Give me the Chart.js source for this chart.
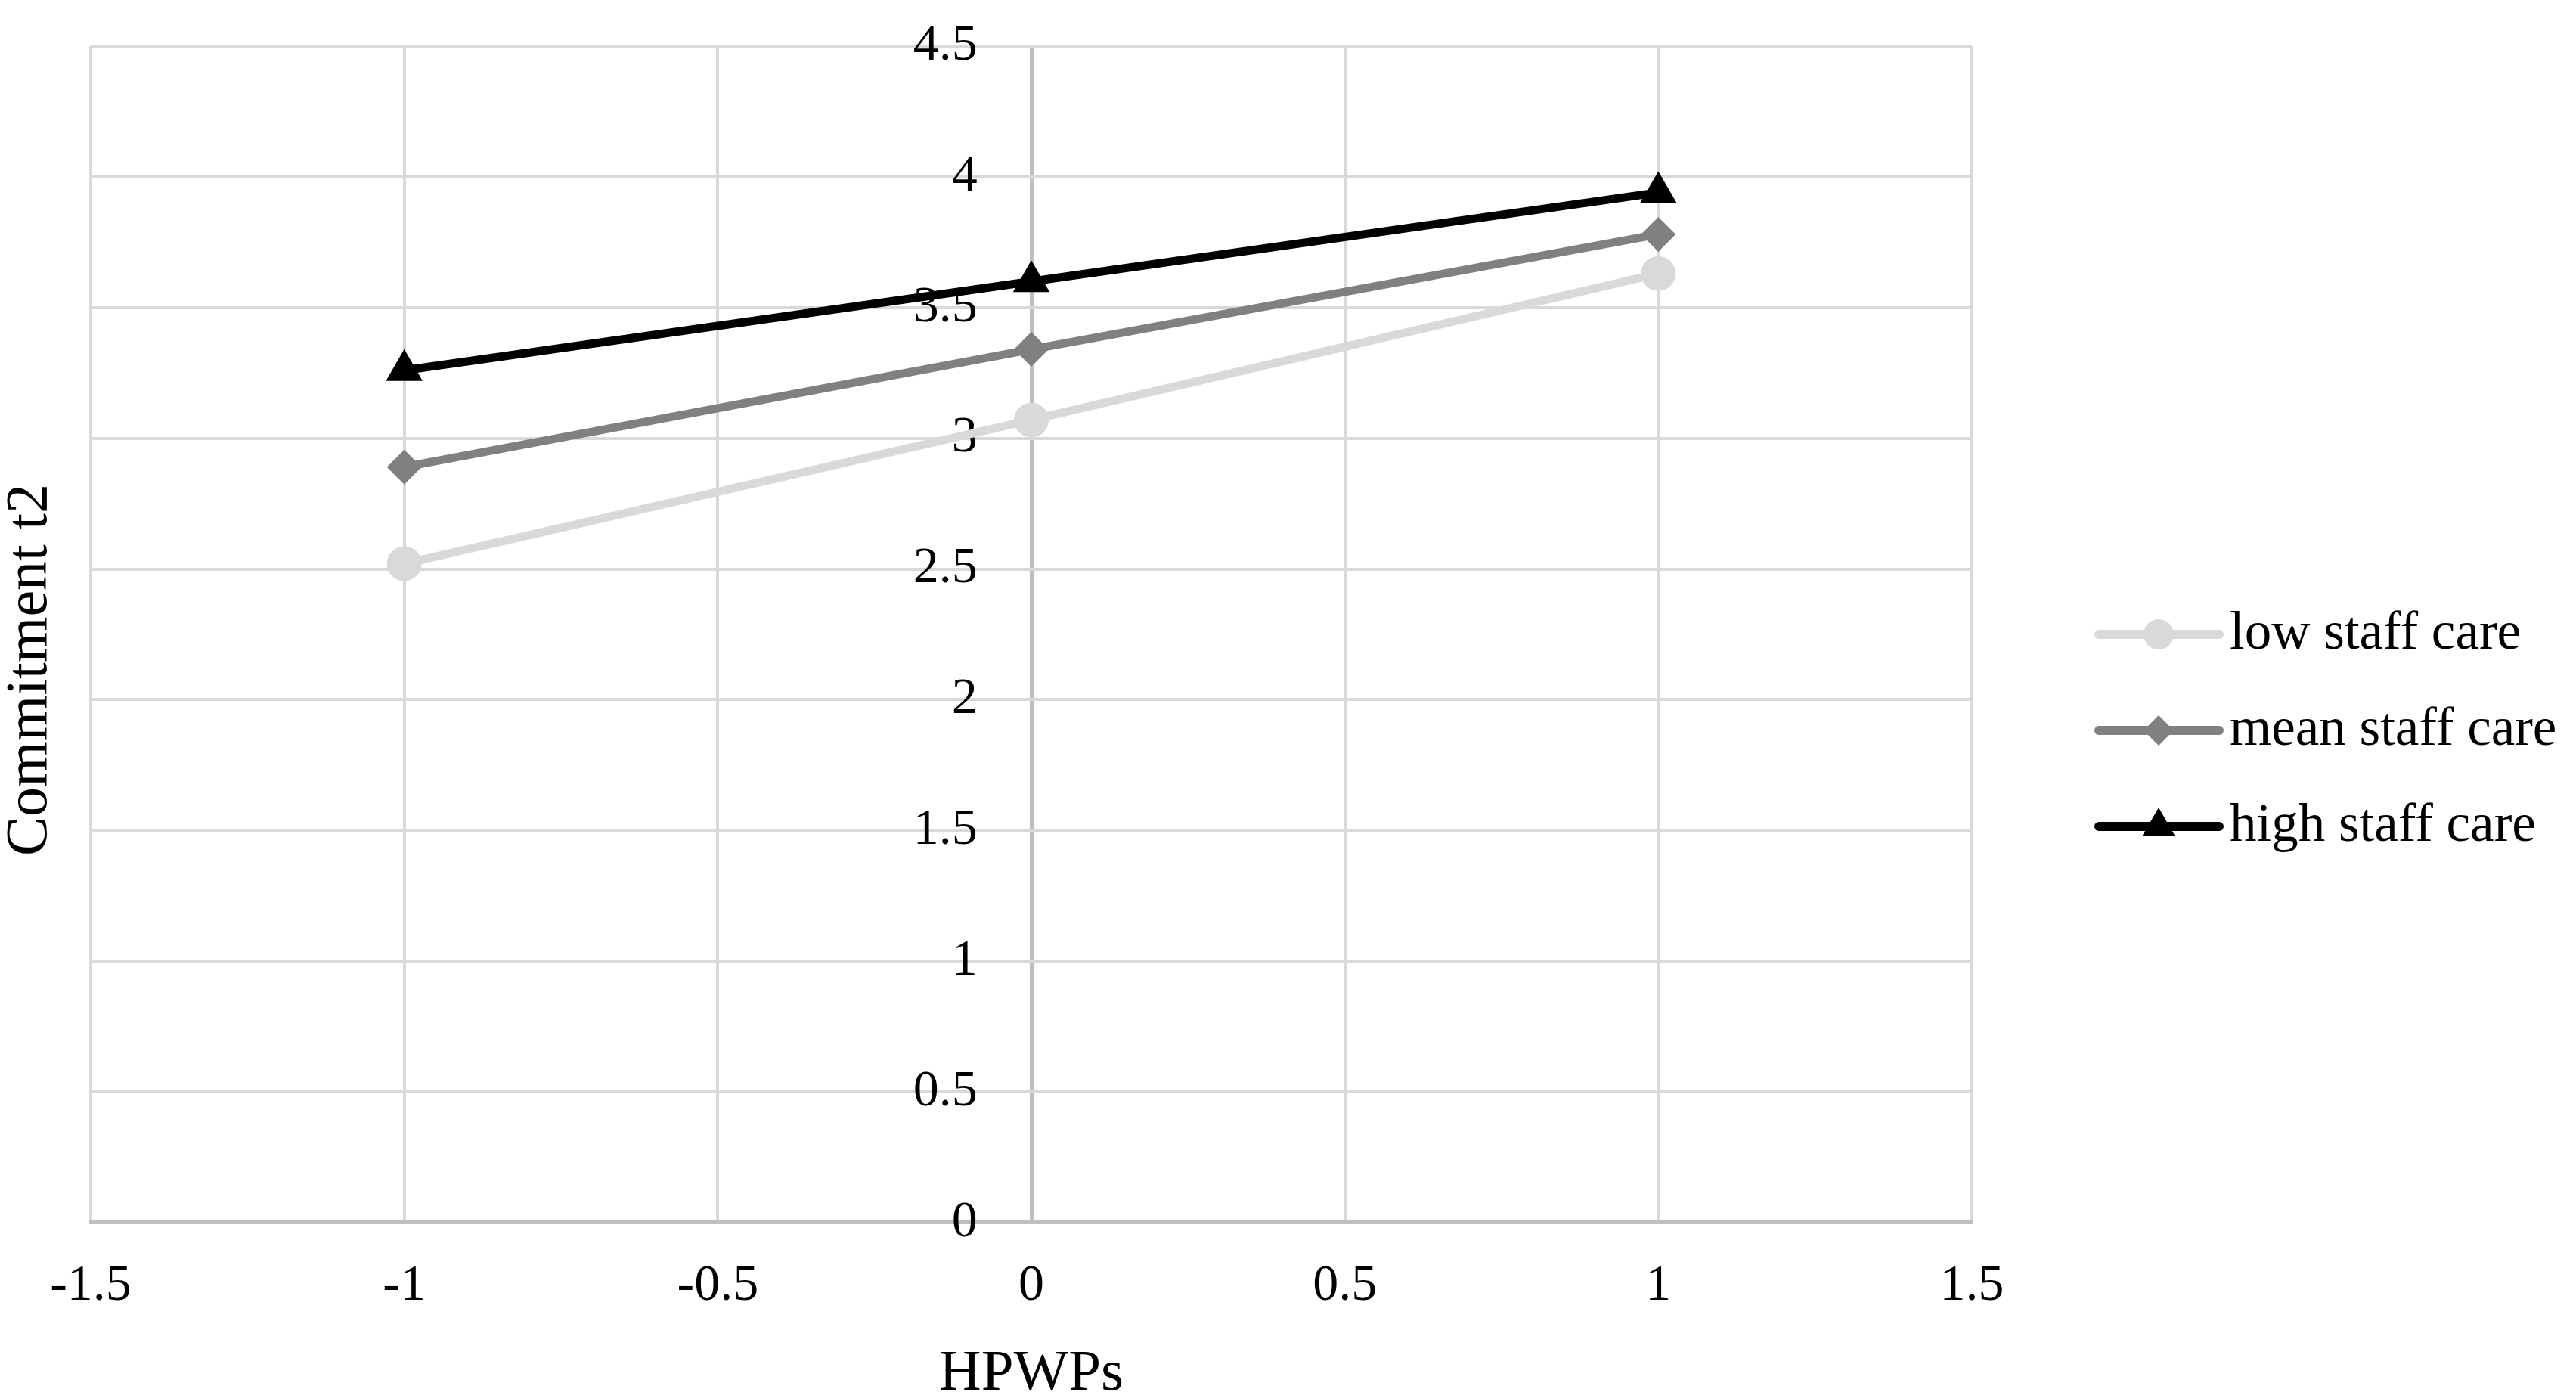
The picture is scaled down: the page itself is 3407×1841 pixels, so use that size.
<!DOCTYPE html>
<html>
<head>
<meta charset="utf-8">
<script src="https://cdn.jsdelivr.net/npm/chart.js@4.4.0/dist/chart.umd.min.js"></script>
<style>
    html, body { margin: 0; padding: 0; background: #ffffff; }
    #grafico { display: block; }
</style>
</head>
<body>
<canvas id="grafico" width="3407" height="1841"></canvas>
<script>
// valores
const hpwps = [-1, 0, 1];
const lowStaffCare = [2.52, 3.07, 3.63];
const meanStaffCare = [2.89, 3.34, 3.78];
const highStaffCare = [3.26, 3.60, 3.94];
const seriesLabels = ["low staff care", "mean staff care", "high staff care"];
const xTicks = [-1.5, -1, -0.5, 0, 0.5, 1, 1.5];
const yTicks = [0, 0.5, 1, 1.5, 2, 2.5, 3, 3.5, 4, 4.5];
const tituloX = "HPWPs";
const tituloY = "Commitment t2";

const fuente = "'Liberation Serif', 'DejaVu Serif', serif";

function puntos(valores) {
    return hpwps.map((x, i) => ({ x: x, y: valores[i] }));
}

function fijarTicks(lista) {
    return function (axis) {
        axis.ticks = lista.map((v) => ({ value: v }));
    };
}

// leyenda a la derecha y titulo del eje y
const extrasExcel = {
    id: "extrasExcel",
    afterDraw(chart) {
        const ctx = chart.ctx;
        ctx.save();
        chart.data.datasets.forEach((ds, i) => {
            const y = 839 + i * 127;
            ctx.strokeStyle = ds.borderColor;
            ctx.lineWidth = 12;
            ctx.lineCap = "round";
            ctx.beginPath();
            ctx.moveTo(2776, y);
            ctx.lineTo(2935, y);
            ctx.stroke();

            ctx.fillStyle = ds.pointBackgroundColor;
            Chart.helpers.drawPoint(ctx, {
                pointStyle: ds.pointStyle,
                radius: ds.pointRadius - 3,
                rotation: 0,
                borderWidth: 0
            }, 2855, y);

            ctx.fillStyle = "#000000";
            ctx.font = "71px " + fuente;
            ctx.textAlign = "left";
            ctx.textBaseline = "middle";
            ctx.fillText(ds.label, 2949, y);
        });

        // titulo vertical
        ctx.translate(41, 886);
        ctx.rotate(-Math.PI / 2);
        ctx.fillStyle = "#000000";
        ctx.font = "78px " + fuente;
        ctx.textAlign = "center";
        ctx.textBaseline = "middle";
        ctx.fillText(tituloY, 0, 0);
        ctx.restore();
    }
};

function crearDataset(label, valores, color, estilo, radio) {
    return {
        label: label,
        data: puntos(valores),
        borderColor: color,
        backgroundColor: color,
        pointBackgroundColor: color,
        pointBorderColor: color,
        pointBorderWidth: 0,
        pointStyle: estilo,
        pointRadius: radio,
        borderWidth: 11,
        tension: 0
    };
}

const datasets = [
    crearDataset(seriesLabels[0], lowStaffCare, "#d9d9d9", "circle", 23),
    crearDataset(seriesLabels[1], meanStaffCare, "#808080", "rectRot", 23),
    crearDataset(seriesLabels[2], highStaffCare, "#000000", "triangle", 28)
];

const config = {
    type: "line",
    data: { datasets },
    plugins: [extrasExcel],
    options: {
        responsive: false,
        devicePixelRatio: 1,
        animation: false,
        layout: { padding: { left: 120, right: 799, top: 61, bottom: 0 } },
        plugins: {
            legend: { display: false },
            tooltip: { enabled: false }
        },
        scales: {
            x: {
                type: "linear",
                min: -1.5,
                max: 1.5,
                afterBuildTicks: fijarTicks(xTicks),
                grid: {
                    color: (c) => (c.tick && c.tick.value === 0 ? "#bfbfbf" : "#d9d9d9"),
                    lineWidth: (c) => (c.tick && c.tick.value === 0 ? 5 : 4),
                    drawTicks: false
                },
                border: { color: "#bfbfbf", width: 5 },
                ticks: {
                    padding: 43,
                    color: "#000000",
                    maxRotation: 0,
                    autoSkip: false,
                    font: { family: fuente, size: 68 },
                    callback: (v) => String(v)
                },
                title: {
                    display: true,
                    text: tituloX,
                    color: "#000000",
                    font: { family: fuente, size: 77, lineHeight: 0.5 },
                    padding: { top: 14, bottom: 4 }
                }
            },
            y: {
                min: 0,
                max: 4.5,
                afterBuildTicks: fijarTicks(yTicks),
                grid: { color: "#d9d9d9", lineWidth: 4, drawTicks: false },
                border: { display: false },
                ticks: { display: false }
            },
            y2: {
                axis: "y",
                position: { x: -0.086 },
                min: 0,
                max: 4.5,
                afterBuildTicks: fijarTicks(yTicks),
                grid: { display: false, drawTicks: false },
                border: { display: false },
                ticks: {
                    color: "#000000",
                    font: { family: fuente, size: 68, lineHeight: 0.6 },
                    callback: (v) => String(v)
                }
            }
        }
    }
};

const myChart = document.getElementById("grafico");
new Chart(myChart, config);
</script>
</body>
</html>
